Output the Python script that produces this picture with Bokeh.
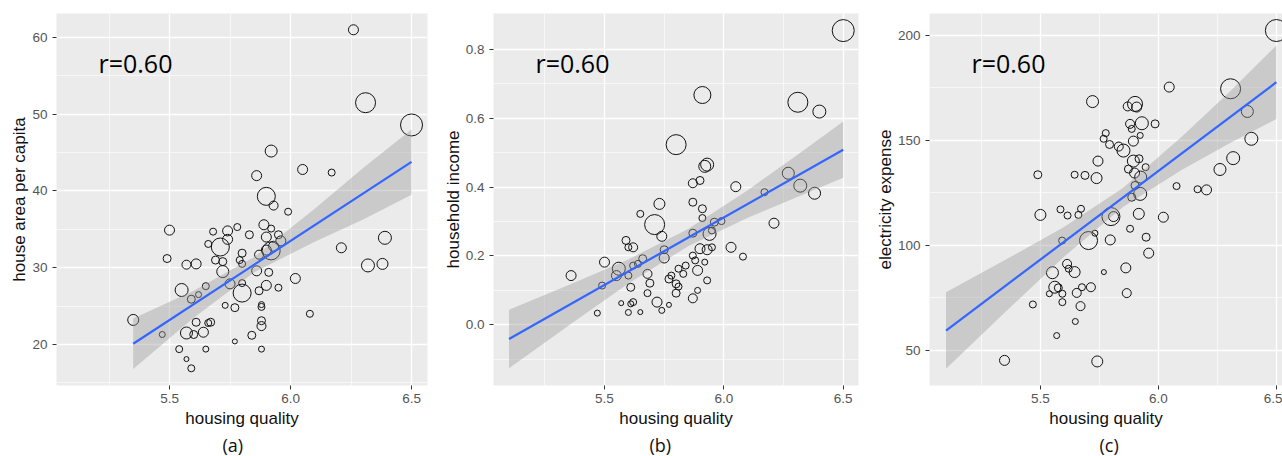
from bokeh.plotting import figure
from bokeh.layouts import row
from bokeh.models import FixedTicker, PrintfTickFormatter, Label, Range1d, ColumnDataSource, Title
from bokeh.embed import file_html
from bokeh.resources import INLINE

# ---------------- data ----------------
x_label = "housing quality"
captions = ["(a)", "(b)", "(c)"]
r_texts = ["r=0.60", "r=0.60", "r=0.60"]
y_labels = ["house area per capita", "household income", "electricity expense"]

# panel (a): house area per capita
a_x = [6.26, 6.31, 6.50, 5.92, 6.05, 6.17, 5.86, 5.90, 5.93, 5.99, 6.39, 6.21, 6.32, 6.38, 6.02, 6.08,
       5.35, 5.47, 5.50, 5.49, 5.57, 5.61, 5.55, 5.59, 5.65, 5.62, 5.61, 5.67, 5.66, 5.57, 5.60, 5.64,
       5.54, 5.65, 5.57, 5.59, 5.68, 5.74, 5.78, 5.74, 5.83, 5.66, 5.71, 5.69, 5.72, 5.72, 5.75, 5.80,
       5.80, 5.79, 5.80, 5.80, 5.73, 5.77, 5.77, 5.84, 5.88, 5.88, 5.88, 5.88, 5.88, 5.87, 5.90, 5.86,
       5.91, 5.95, 5.87, 5.89, 5.92, 5.90, 5.95, 5.96, 5.92, 5.90, 5.93]
a_y = [61.0, 51.5, 48.6, 45.2, 42.8, 42.4, 42.0, 39.3, 38.1, 37.3, 33.9, 32.6, 30.3, 30.5, 28.6, 24.0,
       23.2, 21.3, 34.9, 31.2, 30.4, 30.5, 27.1, 25.9, 27.6, 26.5, 22.9, 22.9, 22.8, 21.5, 21.3, 21.6,
       19.4, 19.4, 18.1, 16.9, 34.7, 34.8, 35.3, 33.7, 34.3, 33.1, 32.7, 31.0, 30.8, 29.5, 27.9, 31.9,
       30.5, 31.0, 26.7, 28.0, 25.1, 24.8, 20.4, 21.2, 19.4, 23.1, 22.4, 24.9, 25.2, 27.0, 27.7, 29.6,
       29.4, 27.4, 31.7, 35.6, 35.1, 34.0, 34.3, 33.5, 32.2, 32.3, 32.8]
a_s = [10, 20, 22, 12, 10, 7, 10, 18, 9, 7, 13, 10, 13, 11, 10, 7,
       11, 6, 10, 8, 9, 10, 13, 8, 7, 6, 8, 8, 7, 12, 8, 10,
       7, 6, 5, 7, 7, 10, 7, 10, 8, 7, 18, 8, 8, 12, 10, 8,
       7, 7, 18, 7, 6, 8, 5, 8, 6, 8, 9, 7, 6, 8, 10, 10,
       8, 7, 9, 10, 7, 10, 8, 10, 18, 10, 10]
a_fit_x = [5.35, 6.50]
a_fit_y = [20.1, 43.8]
a_band_x = [5.35, 5.60, 5.85, 6.10, 6.30, 6.50]
a_band_lo = [16.8, 23.5, 29.4, 33.4, 36.3, 39.5]
a_band_hi = [23.4, 27.0, 31.4, 37.7, 43.0, 48.0]

# panel (b): household income
b_x = [6.50, 5.91, 6.31, 6.40, 5.80, 5.93, 5.92, 5.87, 5.90, 6.05, 6.27, 6.32, 6.38, 6.17, 6.21, 5.73,
       5.65, 5.87, 5.91, 5.91, 5.96, 5.99, 5.71, 5.74, 5.87, 5.94, 5.95, 5.59, 5.60, 5.62, 5.75, 5.75,
       6.03, 5.95, 5.90, 5.93, 6.08, 5.87, 5.88, 5.92, 5.89, 5.93, 5.50, 5.36, 5.49, 5.56, 5.55, 5.60,
       5.62, 5.66, 5.64, 5.68, 5.69, 5.61, 5.68, 5.77, 5.78, 5.81, 5.80, 5.81, 5.84, 5.83, 5.80, 5.72,
       5.74, 5.62, 5.61, 5.57, 5.60, 5.65, 5.47, 5.77, 5.87, 5.89]
b_y = [0.854, 0.667, 0.646, 0.619, 0.523, 0.465, 0.460, 0.411, 0.419, 0.401, 0.440, 0.404, 0.382, 0.385,
       0.295, 0.351, 0.322, 0.356, 0.337, 0.310, 0.298, 0.301, 0.291, 0.257, 0.266, 0.264, 0.274, 0.245,
       0.225, 0.225, 0.218, 0.194, 0.225, 0.225, 0.221, 0.218, 0.198, 0.201, 0.187, 0.182, 0.158, 0.129,
       0.182, 0.143, 0.114, 0.163, 0.143, 0.143, 0.172, 0.192, 0.177, 0.148, 0.121, 0.109, 0.092, 0.133,
       0.143, 0.163, 0.119, 0.111, 0.172, 0.148, 0.092, 0.066, 0.042, 0.066, 0.061, 0.063, 0.036, 0.037,
       0.034, 0.058, 0.077, 0.100]
b_s = [22, 17, 20, 13, 20, 13, 12, 9, 8, 10, 12, 13, 12, 7, 10, 11,
       7, 8, 8, 7, 8, 7, 20, 10, 8, 13, 7, 8, 7, 9, 8, 10,
       10, 7, 10, 10, 7, 7, 7, 6, 10, 7, 10, 10, 7, 13, 10, 7,
       7, 8, 7, 9, 8, 8, 7, 8, 7, 7, 8, 7, 7, 7, 8, 10,
       6, 7, 6, 5, 6, 5, 6, 5, 9, 6]
b_fit_x = [5.10, 6.50]
b_fit_y = [-0.041, 0.508]
b_band_x = [5.10, 5.35, 5.60, 5.85, 6.10, 6.30, 6.50]
b_band_lo = [-0.126, -0.002, 0.120, 0.228, 0.311, 0.369, 0.427]
b_band_hi = [0.044, 0.116, 0.190, 0.278, 0.391, 0.489, 0.590]

# panel (c): electricity expense
c_x = [6.50, 6.306, 6.046, 5.721, 5.870, 5.901, 5.908, 5.930, 5.880, 5.887, 5.986, 5.923, 6.377, 6.394,
       6.317, 6.261, 6.204, 6.166, 6.077, 6.021, 5.777, 5.768, 5.793, 5.832, 5.852, 5.894, 5.744, 5.894,
       5.918, 5.946, 5.873, 5.899, 5.925, 5.489, 5.645, 5.689, 5.738, 5.901, 5.923, 5.887, 5.500, 5.585,
       5.615, 5.672, 5.661, 5.799, 5.810, 5.917, 5.731, 5.704, 5.592, 5.796, 5.880, 5.948, 5.959, 5.862,
       5.613, 5.620, 5.645, 5.551, 5.769, 5.561, 5.576, 5.538, 5.593, 5.593, 5.676, 5.714, 5.654, 5.670,
       5.866, 5.468, 5.648, 5.569, 5.348, 5.741]
c_y = [202.2, 174.5, 175.3, 168.4, 166.1, 167.3, 165.8, 158.1, 157.8, 155.4, 157.8, 152.3, 163.7, 150.7,
       141.5, 136.1, 126.4, 126.7, 128.2, 113.4, 153.4, 150.7, 148.0, 147.0, 145.1, 149.6, 140.1, 140.1,
       141.2, 137.2, 136.3, 134.4, 132.5, 133.6, 133.6, 133.3, 132.0, 128.5, 124.5, 122.9, 114.5, 117.1,
       114.2, 117.4, 114.5, 113.7, 113.7, 115.0, 105.8, 102.3, 102.3, 102.6, 107.9, 103.9, 96.3, 89.3,
       91.2, 88.9, 87.3, 87.0, 87.3, 80.1, 79.8, 77.0, 77.0, 73.0, 80.1, 80.1, 77.4, 71.1,
       77.3, 71.9, 63.8, 57.1, 45.3, 44.8]
c_s = [22, 20, 10, 12, 9, 15, 10, 13, 9, 7, 8, 6, 12, 13,
       13, 12, 10, 7, 7, 10, 7, 7, 8, 9, 13, 10, 10, 12,
       8, 7, 8, 10, 12, 8, 7, 8, 11, 8, 13, 8, 11, 7,
       7, 7, 7, 18, 10, 11, 6, 18, 7, 10, 7, 8, 10, 10,
       9, 7, 11, 12, 5, 12, 8, 6, 7, 7, 7, 9, 9, 9,
       9, 7, 6, 6, 10, 11]
c_fit_x = [5.10, 6.50]
c_fit_y = [59.5, 177.6]
c_band_x = [5.10, 5.35, 5.60, 5.85, 6.10, 6.30, 6.50]
c_band_lo = [41.3, 68.2, 94.6, 118.3, 136.0, 148.5, 160.1]
c_band_hi = [77.7, 93.0, 108.8, 127.3, 151.8, 172.9, 195.1]

x_ticks = [5.5, 6.0, 6.5]
x_minor = [5.25, 5.75, 6.25]
a_ticks, a_minor = [20, 30, 40, 50, 60], [15, 25, 35, 45, 55]
b_ticks, b_minor = [0.0, 0.2, 0.4, 0.6, 0.8], [-0.1, 0.1, 0.3, 0.5, 0.7]
c_ticks, c_minor = [50, 100, 150, 200], [75, 125, 175]

# ---------------- styling / layout ----------------
AX_FONT = "Liberation Sans"
ANN_FONT = "Open Sans"
BG = "#EBEBEB"


def panel(xs, ys, ss, fit_x, fit_y, bx, blo, bhi, yticks, yminor, yfmt, xr, yr,
          ylabel, rtext, caption, bl, fw, br, cap_off):
    p = figure(frame_width=fw, frame_height=372, min_border_left=bl, min_border_right=br,
               min_border_top=13, min_border_bottom=71,
               x_range=Range1d(*xr), y_range=Range1d(*yr),
               output_backend="svg", toolbar_location=None)
    p.background_fill_color = BG
    p.border_fill_color = "white"
    p.outline_line_color = None

    for g in (p.xgrid, p.ygrid):
        g.grid_line_color = "white"
        g.grid_line_width = 1.3
        g.minor_grid_line_color = "white"
        g.minor_grid_line_width = 0.6

    p.xaxis.ticker = FixedTicker(ticks=x_ticks, minor_ticks=x_minor)
    p.yaxis.ticker = FixedTicker(ticks=yticks, minor_ticks=yminor)
    p.xaxis.formatter = PrintfTickFormatter(format="%.1f")
    p.yaxis.formatter = PrintfTickFormatter(format=yfmt)
    p.xaxis.axis_label = x_label
    p.yaxis.axis_label = ylabel
    for ax in (p.xaxis, p.yaxis):
        ax.axis_line_color = None
        ax.major_tick_line_color = "#333333"
        ax.major_tick_out = 4
        ax.major_tick_in = 0
        ax.minor_tick_line_color = None
        ax.major_label_text_font = AX_FONT
        ax.major_label_text_font_size = "13.5px"
        ax.major_label_text_color = "#555555"
        ax.axis_label_text_font = AX_FONT
        ax.axis_label_text_font_size = "17px"
        ax.axis_label_text_font_style = "normal"
        ax.axis_label_text_color = "#111111"
    p.xaxis.major_label_standoff = 4
    p.xaxis.axis_label_standoff = 3
    p.yaxis.major_label_standoff = 5
    p.yaxis.axis_label_standoff = 0

    src = ColumnDataSource(dict(x=xs, y=ys, s=ss))
    p.scatter("x", "y", size="s", source=src, fill_color=None,
              line_color="#111111", line_width=1.0)
    p.varea(x=bx, y1=blo, y2=bhi, fill_color="#999999", fill_alpha=0.4)
    p.line(fit_x, fit_y, line_color="#3366FF", line_width=2.2)

    p.add_layout(Label(x=42, y=323, x_units="screen", y_units="screen", text=rtext,
                       text_font=ANN_FONT, text_font_size="25px", text_color="#000000",
                       text_baseline="alphabetic"))
    p.add_layout(Title(text=caption, align="left", offset=cap_off, standoff=2,
                       vertical_align="middle", text_font=ANN_FONT, text_font_size="18px",
                       text_font_style="normal", text_color="#111111"), "below")
    return p


pa = panel(a_x, a_y, a_s, a_fit_x, a_fit_y, a_band_x, a_band_lo, a_band_hi,
           a_ticks, a_minor, "%d", (5.033, 6.566), (14.66, 63.12),
           y_labels[0], r_texts[0], captions[0], 56, 371, 3, 166)
pb = panel(b_x, b_y, b_s, b_fit_x, b_fit_y, b_band_x, b_band_lo, b_band_hi,
           b_ticks, b_minor, "%.1f", (5.035, 6.564), (-0.176, 0.9036),
           y_labels[1], r_texts[1], captions[1], 63, 365, 2, 156)
pc = panel(c_x, c_y, c_s, c_fit_x, c_fit_y, c_band_x, c_band_lo, c_band_hi,
           c_ticks, c_minor, "%d", (5.030, 6.526), (33.35, 210.3),
           y_labels[2], r_texts[2], captions[2], 69, 353, 0, 170)

layout = row(pa, pb, pc)
open("out.html", "w").write(file_html(layout, INLINE))
